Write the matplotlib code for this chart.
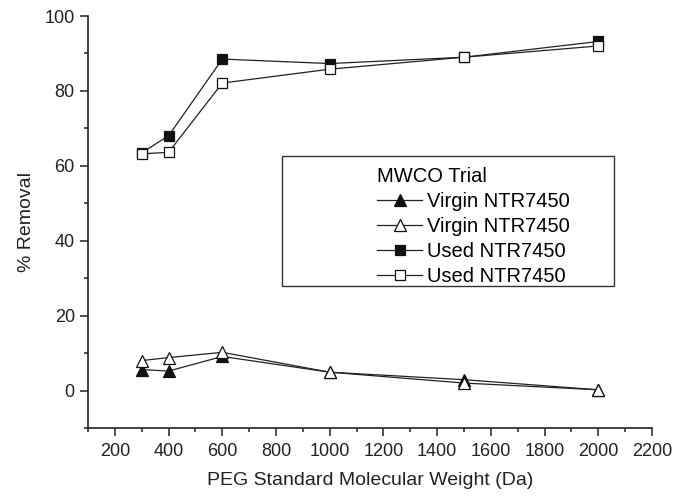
import matplotlib
matplotlib.use("Agg")
import matplotlib.pyplot as plt
from matplotlib.patches import Rectangle
from matplotlib.ticker import MultipleLocator

plt.rcParams['font.family'] = ['Liberation Sans', 'DejaVu Sans']

mw = [300, 400, 600, 1000, 1500, 2000]
virgin_a = [5.6, 5.2, 9.1, 4.9, 2.9, 0.2]
virgin_b = [8.0, 8.8, 10.2, 4.9, 2.0, 0.2]
used_a = [63.5, 68.0, 88.5, 87.3, 89.0, 93.2]
used_b = [63.2, 63.6, 82.1, 85.8, 89.0, 92.0]

fig = plt.figure(figsize=(6.8, 4.96), dpi=100)
ax = fig.add_axes([88/680, 68/496, 564/680, 412/496])

lc = '#222222'
kw = dict(color=lc, lw=0.9, markeredgecolor='#111111', markeredgewidth=0.9)
ax.plot(mw, virgin_a, marker='^', ms=8, markerfacecolor='#111111', label='Virgin NTR7450', **kw)
ax.plot(mw, virgin_b, marker='^', ms=8, markerfacecolor='white', label='Virgin NTR7450', **kw)
ax.plot(mw, used_a, marker='s', ms=7, markerfacecolor='#111111', label='Used NTR7450', **kw)
ax.plot(mw, used_b, marker='s', ms=7, markerfacecolor='white', label='Used NTR7450', **kw)

ax.set_xlim(100, 2200)
ax.set_ylim(-10, 100)
ax.xaxis.set_major_locator(MultipleLocator(200))
ax.xaxis.set_minor_locator(MultipleLocator(100))
ax.yaxis.set_major_locator(MultipleLocator(20))
ax.yaxis.set_minor_locator(MultipleLocator(10))
ax.spines['top'].set_visible(False)
ax.spines['right'].set_visible(False)
for s in ['left', 'bottom']:
    ax.spines[s].set_linewidth(1.2)
    ax.spines[s].set_color('#222222')
ax.tick_params(which='major', length=5.5, width=1.1, labelsize=13, colors='#222222')
ax.tick_params(which='minor', length=3, width=1.1, colors='#222222')
ax.tick_params(axis='x', pad=5)
ax.tick_params(axis='y', pad=4)

ax.set_xlabel('PEG Standard Molecular Weight (Da)', fontsize=14, labelpad=9, color='#222222')
ax.set_ylabel('% Removal', fontsize=14, labelpad=7, color='#222222')

fig.patches.append(Rectangle((282/680, 1 - 286/496), 332/680, 130/496,
                             transform=fig.transFigure, fill=False,
                             edgecolor='#333333', lw=1.0))
leg = ax.legend(title='MWCO Trial', frameon=False, loc='upper left',
                bbox_to_anchor=(373/680, 1 - 163/496), bbox_transform=fig.transFigure,
                fontsize=14.5, title_fontsize=14.5, handlelength=2.25, handletextpad=0.25,
                labelspacing=0.3, borderpad=0.2, borderaxespad=0)
leg._legend_box.align = 'left'

fig.savefig('out.png', dpi=100)
